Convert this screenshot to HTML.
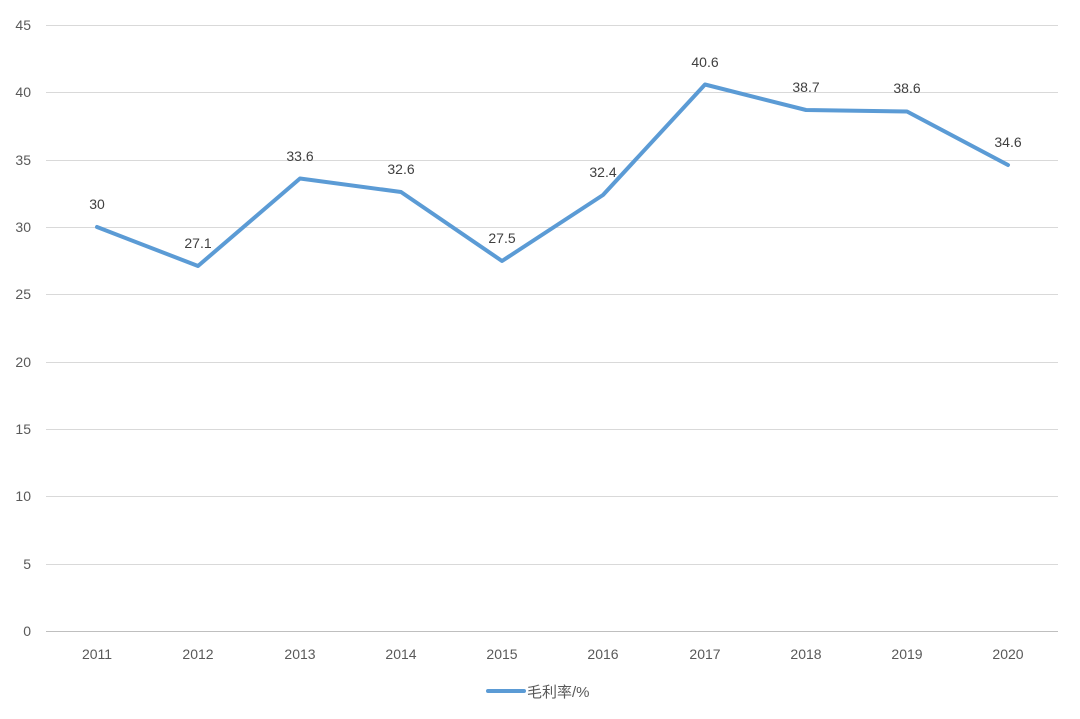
<!DOCTYPE html>
<html><head><meta charset="utf-8"><style>
body{margin:0;background:#fff;}
svg{display:block;font-family:"Liberation Sans","Noto Sans CJK SC",sans-serif;}
</style></head><body>
<svg width="1080" height="719" viewBox="0 0 1080 719" xmlns="http://www.w3.org/2000/svg">
<g stroke="#d9d9d9" stroke-width="1">
<line x1="46" y1="25.5" x2="1058" y2="25.5"/>
<line x1="46" y1="92.5" x2="1058" y2="92.5"/>
<line x1="46" y1="160.5" x2="1058" y2="160.5"/>
<line x1="46" y1="227.5" x2="1058" y2="227.5"/>
<line x1="46" y1="294.5" x2="1058" y2="294.5"/>
<line x1="46" y1="362.5" x2="1058" y2="362.5"/>
<line x1="46" y1="429.5" x2="1058" y2="429.5"/>
<line x1="46" y1="496.5" x2="1058" y2="496.5"/>
<line x1="46" y1="564.5" x2="1058" y2="564.5"/>
</g>
<line x1="46" y1="631.5" x2="1058" y2="631.5" stroke="#bfbfbf" stroke-width="1"/>
<g fill="#595959" font-size="14" text-anchor="end">
<text x="31" y="30">45</text><text x="31" y="97">40</text><text x="31" y="165">35</text>
<text x="31" y="232">30</text><text x="31" y="299">25</text><text x="31" y="367">20</text>
<text x="31" y="434">15</text><text x="31" y="501">10</text><text x="31" y="569">5</text>
<text x="31" y="636">0</text>
</g>
<g fill="#595959" font-size="14" text-anchor="middle">
<text x="97" y="659">2011</text><text x="198" y="659">2012</text><text x="300" y="659">2013</text>
<text x="401" y="659">2014</text><text x="502" y="659">2015</text><text x="603" y="659">2016</text>
<text x="705" y="659">2017</text><text x="806" y="659">2018</text><text x="907" y="659">2019</text>
<text x="1008" y="659">2020</text>
</g>
<polyline fill="none" stroke="#5b9bd5" stroke-width="4" stroke-linejoin="round" stroke-linecap="round"
points="97,227 198,266 300,178.5 401,192 502,261 603,195 705,84.5 806,110 907,111.5 1008,165"/>
<g fill="#404040" font-size="14" text-anchor="middle">
<text x="97" y="209">30</text><text x="198" y="248">27.1</text><text x="300" y="161">33.6</text>
<text x="401" y="174">32.6</text><text x="502" y="243">27.5</text><text x="603" y="177">32.4</text>
<text x="705" y="67">40.6</text><text x="806" y="92">38.7</text><text x="907" y="93">38.6</text>
<text x="1008" y="147">34.6</text>
</g>
<line x1="488" y1="691" x2="524" y2="691" stroke="#5b9bd5" stroke-width="4" stroke-linecap="round"/>
<text x="527" y="697" fill="#595959" font-size="15">毛利率/%</text>
</svg>
</body></html>
